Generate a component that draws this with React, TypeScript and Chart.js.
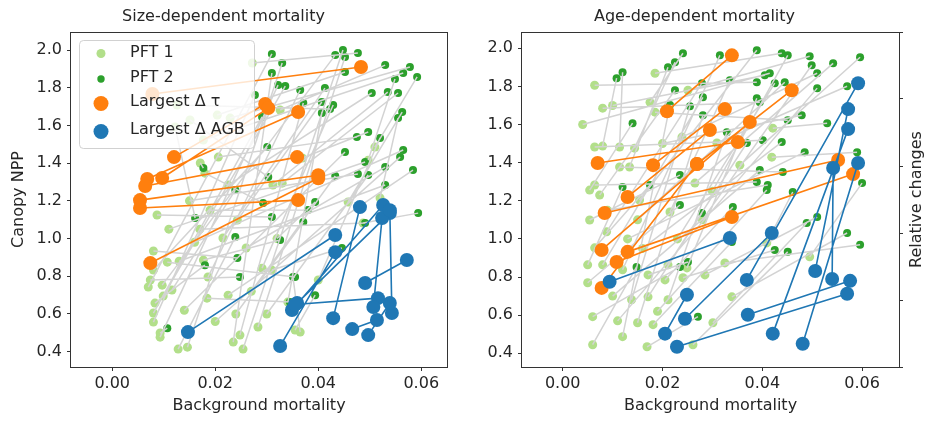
import React, { useEffect, useRef } from "react";
import { Chart, registerables } from "chart.js";
Chart.register(...registerables);

const FONT = "'DejaVu Sans', 'Liberation Sans', sans-serif";
const TEXT = "#262626";
const SPINE = "#333333";
const C_PFT1 = "#b2df8a";
const C_PFT2 = "#2ca02c";
const C_TAU = "#ff7f0e";
const C_AGB = "#1f77b4";
const C_LINK = "#d3d3d3";

const W = 463;
const H = 422;

const panelTitles = ["Size-dependent mortality", "Age-dependent mortality"];
const xAxisLabel = "Background mortality";
const yAxisLabel = "Canopy NPP";
const y2AxisLabel = "Relative changes";
const legendLabels = ["PFT 1", "PFT 2", "Largest \u0394 \u03c4", "Largest \u0394 AGB"];

// ---------- Size-dependent mortality (left) ----------
const sizeP1X = [0.0087,0.0080,0.0107,0.0080,0.0074,0.0070,0.0097,0.0116,0.0099,0.0083,0.0080,0.0080,0.0093,0.0093,0.0128,0.0146,0.0235,0.0248,0.0254,0.0283,0.0184,0.0186,0.0177,0.0215,0.0243,0.0225,0.0180,0.0312,0.0330,0.0291,0.0310,0.0355,0.0341,0.0272,0.0326,0.0126,0.0151,0.0204,0.0229,0.0206,0.0171,0.0177,0.0122,0.0510,0.0497,0.0369,0.0458,0.0520,0.0487,0.0400,0.0365,0.0140,0.0160,0.0200,0.0110,0.0225,0.0260,0.0150,0.0300,0.0270,0.0130,0.0320,0.0190,0.0240,0.0170];
const sizeP1Y = [1.125,0.934,0.875,0.833,0.780,0.743,0.753,0.727,0.695,0.658,0.605,0.557,0.499,0.477,0.414,0.424,0.451,0.488,0.414,0.531,0.684,0.796,0.886,1.003,1.098,1.284,1.347,1.284,1.294,0.843,0.833,0.515,0.663,1.931,1.682,1.708,1.629,1.655,1.639,1.432,1.401,1.523,1.592,1.485,1.416,1.427,1.194,1.215,1.082,0.780,0.504,0.620,0.980,0.560,1.050,0.700,0.950,1.200,0.600,0.720,0.880,1.000,1.150,0.600,1.050];
const sizeP2X = [0.0310,0.0243,0.0355,0.0301,0.0248,0.0310,0.0433,0.0239,0.0336,0.0180,0.0291,0.0277,0.0107,0.0322,0.0239,0.0330,0.0310,0.0371,0.0448,0.0452,0.0345,0.0365,0.0326,0.0413,0.0407,0.0504,0.0293,0.0535,0.0555,0.0429,0.0446,0.0394,0.0407,0.0477,0.0530,0.0423,0.0303,0.0452,0.0578,0.0475,0.0177,0.0565,0.0161,0.0592,0.0549,0.0497,0.0563,0.0555,0.0594,0.0520,0.0351,0.0452,0.0565,0.0559,0.0491,0.0584,0.0530,0.0477,0.0497,0.0433,0.0530,0.0394,0.0380,0.0371,0.0491];
const sizeP2Y = [1.114,0.897,0.796,1.485,0.796,1.979,1.973,1.257,1.809,0.859,1.645,1.761,0.525,1.814,1.008,1.931,1.878,1.719,2.000,1.963,0.663,1.788,0.992,1.798,1.724,1.772,1.188,1.777,1.772,1.708,0.950,0.700,1.666,1.984,1.920,1.687,1.326,1.883,1.910,1.538,1.374,1.878,1.109,1.857,1.846,1.565,1.671,1.639,1.135,1.533,0.796,1.459,1.470,1.432,1.406,1.363,1.379,1.342,1.337,1.332,1.284,1.194,1.151,1.088,1.082];

const sizeTauX1 = [0.0078,0.0120,0.0097,0.0068,0.0064,0.0054,0.0054,0.0074];
const sizeTauY1 = [1.767,1.432,1.321,1.316,1.279,1.204,1.162,0.870];
const sizeTauX2 = [0.0483,0.0297,0.0303,0.0361,0.0359,0.0400,0.0361,0.0400];
const sizeTauY2 = [1.910,1.714,1.692,1.671,1.432,1.336,1.204,1.320];

const sizeAgbX1 = [0.0147,0.0326,0.0349,0.0359,0.0429,0.0491,0.0355,0.0507,0.0543,0.0466,0.0497];
const sizeAgbY1 = [0.504,0.430,0.621,0.658,0.578,0.764,0.650,0.637,0.605,0.520,0.488];
const sizeAgbX2 = [0.0433,0.0433,0.0526,0.0539,0.0481,0.0572,0.0516,0.0524,0.0539,0.0514,0.0539];
const sizeAgbY2 = [1.019,0.928,1.178,1.135,1.167,0.886,0.684,1.109,1.150,0.568,0.658];

// ---------- Age-dependent mortality (right) ----------
const ageP1X = [0.0064,0.0185,0.0080,0.0175,0.0185,0.0251,0.0239,0.0064,0.0080,0.0114,0.0144,0.0114,0.0134,0.0064,0.0054,0.0074,0.0265,0.0309,0.0355,0.0421,0.0419,0.0054,0.0088,0.0064,0.0050,0.0080,0.0050,0.0120,0.0138,0.0171,0.0060,0.0120,0.0060,0.0169,0.0150,0.0181,0.0211,0.0205,0.0171,0.0211,0.0241,0.0261,0.0301,0.0339,0.0285,0.0325,0.0249,0.0215,0.0154,0.0495,0.0409,0.0100,0.0090,0.0130,0.0160,0.0040,0.0100,0.0200,0.0150,0.0280,0.0230,0.0300,0.0190,0.0110];
const ageP1Y = [1.806,1.869,1.686,1.717,1.665,1.780,1.534,1.482,1.487,1.482,1.476,1.377,1.377,1.283,1.256,1.230,1.293,1.503,1.387,1.581,1.429,1.099,1.037,0.953,0.864,0.864,0.770,0.838,0.681,0.696,0.592,0.487,0.445,0.434,0.560,0.550,0.681,0.785,0.811,0.864,0.796,0.445,0.560,0.696,0.811,0.874,0.848,1.141,1.204,0.906,0.979,0.700,1.150,1.000,0.950,1.600,1.700,1.500,1.100,1.100,1.000,1.250,0.620,0.570];
const ageP2X = [0.0389,0.0439,0.0395,0.0241,0.0451,0.0495,0.0510,0.0401,0.0108,0.0120,0.0225,0.0441,0.0211,0.0389,0.0140,0.0225,0.0542,0.0570,0.0596,0.0530,0.0590,0.0235,0.0279,0.0175,0.0120,0.0281,0.0235,0.0315,0.0255,0.0279,0.0235,0.0215,0.0148,0.0271,0.0281,0.0339,0.0329,0.0341,0.0251,0.0369,0.0425,0.0451,0.0489,0.0570,0.0510,0.0596,0.0389,0.0335,0.0389,0.0600,0.0461,0.0395,0.0411,0.0485,0.0439,0.0415,0.0405,0.0479,0.0445,0.0499,0.0425,0.0451,0.0409,0.0510];
const ageP2Y = [1.822,1.974,1.717,1.974,1.623,1.958,1.869,1.518,1.843,1.874,1.927,1.351,1.901,1.298,1.607,1.780,1.921,1.801,1.953,1.607,1.455,1.335,1.817,1.283,1.272,1.743,1.178,1.963,1.696,1.136,0.853,1.702,0.853,0.592,1.649,0.984,1.560,1.167,0.879,1.503,0.942,0.932,1.084,1.031,1.115,0.969,1.738,1.832,1.990,1.293,1.246,1.361,1.283,1.455,1.508,1.869,1.859,1.649,1.822,1.911,1.817,1.963,1.256,1.791];

const ageTauX1 = [0.0209,0.0181,0.0130,0.0070,0.0084,0.0078,0.0130,0.0108,0.0269,0.0078];
const ageTauY1 = [1.670,1.387,1.220,1.398,1.136,0.942,0.932,0.879,1.393,0.743];
const ageTauX2 = [0.0339,0.0325,0.0295,0.0351,0.0552,0.0375,0.0582,0.0339,0.0459,0.0269];
const ageTauY2 = [1.963,1.681,1.571,1.508,1.414,1.613,1.340,1.115,1.780,1.393];

const ageAgbX1 = [0.0094,0.0205,0.0245,0.0229,0.0371,0.0421,0.0481,0.0506,0.0540,0.0369];
const ageAgbY1 = [0.775,0.503,0.581,0.434,0.602,0.503,0.450,0.832,0.790,0.785];
const ageAgbX2 = [0.0335,0.0249,0.0419,0.0570,0.0576,0.0572,0.0592,0.0572,0.0542,0.0592];
const ageAgbY2 = [1.005,0.707,1.031,0.712,0.780,1.576,1.398,1.681,1.372,1.817];

// axis ranges
const sizeXRange = [-0.0080, 0.0650];
const sizeYRange = [0.3189, 2.0955];
const ageXRange = [-0.00816, 0.0674];
const ageYRange = [0.328, 2.0855];
const relRange = [0, 5];

function linkData(x1: number[], y1: number[], x2: number[], y2: number[]) {
  const out: { x: number; y: number }[] = [];
  for (let i = 0; i < x1.length; i++) {
    out.push({ x: x1[i], y: y1[i] }, { x: x2[i], y: y2[i] }, { x: NaN, y: NaN });
  }
  return out;
}
function pointData(xs: number[], ys: number[]) {
  return xs.map((x, i) => ({ x, y: ys[i] }));
}

type Panel = {
  title: string;
  p1x: number[]; p1y: number[]; p2x: number[]; p2y: number[];
  tx1: number[]; ty1: number[]; tx2: number[]; ty2: number[];
  ax1: number[]; ay1: number[]; ax2: number[]; ay2: number[];
  xr: number[]; yr: number[];
  left: number; right: number; bottom: number;
  isLeft: boolean;
};

function roundRectPath(ctx: CanvasRenderingContext2D, x: number, y: number, w: number, h: number, r: number) {
  ctx.beginPath();
  ctx.moveTo(x + r, y);
  ctx.lineTo(x + w - r, y);
  ctx.arcTo(x + w, y, x + w, y + r, r);
  ctx.lineTo(x + w, y + h - r);
  ctx.arcTo(x + w, y + h, x + w - r, y + h, r);
  ctx.lineTo(x + r, y + h);
  ctx.arcTo(x, y + h, x, y + h - r, r);
  ctx.lineTo(x, y + r);
  ctx.arcTo(x, y, x + r, y, r);
  ctx.closePath();
}

function extrasPlugin(p: Panel) {
  return {
    id: "panelExtras",
    afterDatasetsDraw(chart: any) {
      const ctx: CanvasRenderingContext2D = chart.ctx;
      const ca = chart.chartArea;
      ctx.save();
      // frame
      ctx.strokeStyle = SPINE;
      ctx.lineWidth = 1;
      const l = Math.round(ca.left) - 0.5, t = Math.round(ca.top) + 0.5;
      const r = Math.round(ca.right) + 0.5, b = Math.round(ca.bottom) + 0.5;
      ctx.strokeRect(l, t, r - l, b - t);

      if (p.isLeft) {
        const bx = ca.left + 8, by = ca.top + 8, bw = 175, bh = 108;
        roundRectPath(ctx, bx + 0.5, by + 0.5, bw, bh, 4);
        ctx.fillStyle = "rgba(255,255,255,0.8)";
        ctx.fill();
        ctx.strokeStyle = "rgba(204,204,204,0.9)";
        ctx.stroke();
        const rows = [
          { c: C_PFT1, r: 4.5, my: 13.5, ty: 13 },
          { c: C_PFT2, r: 3.7, my: 39, ty: 37.5 },
          { c: C_TAU, r: 7.5, my: 63.5, ty: 62 },
          { c: C_AGB, r: 7.5, my: 91.5, ty: 89.5 },
        ];
        ctx.font = `16px ${FONT}`;
        ctx.textBaseline = "middle";
        ctx.textAlign = "left";
        rows.forEach((row, i) => {
          ctx.beginPath();
          ctx.fillStyle = row.c;
          ctx.arc(bx + 22, by + row.my, row.r, 0, Math.PI * 2);
          ctx.fill();
          ctx.fillStyle = TEXT;
          ctx.fillText(legendLabels[i], bx + 51, by + row.ty);
        });
      } else {
        ctx.translate(chart.width - 9, (ca.top + ca.bottom) / 2);
        ctx.rotate(-Math.PI / 2);
        ctx.font = `16px ${FONT}`;
        ctx.fillStyle = TEXT;
        ctx.textAlign = "center";
        ctx.textBaseline = "middle";
        ctx.fillText(y2AxisLabel, 0, 0);
      }
      ctx.restore();
    },
  };
}

function makeConfig(p: Panel): any {
  const datasets: any[] = [
    {
      label: legendLabels[3],
      data: linkData(p.ax1, p.ay1, p.ax2, p.ay2),
      showLine: true,
      borderColor: C_AGB,
      borderWidth: 1.6,
      pointRadius: 7,
      pointBackgroundColor: C_AGB,
      pointBorderWidth: 0,
      order: 0,
      yAxisID: "y",
    },
    {
      label: legendLabels[2],
      data: linkData(p.tx1, p.ty1, p.tx2, p.ty2),
      showLine: true,
      borderColor: C_TAU,
      borderWidth: 1.6,
      pointRadius: 7,
      pointBackgroundColor: C_TAU,
      pointBorderWidth: 0,
      order: 1,
      yAxisID: "y",
    },
    {
      label: "links",
      data: linkData(p.p1x, p.p1y, p.p2x, p.p2y),
      showLine: true,
      borderColor: C_LINK,
      borderWidth: 1.5,
      pointRadius: 0,
      order: 2,
      yAxisID: "y",
    },
    {
      label: legendLabels[1],
      data: pointData(p.p2x, p.p2y),
      pointRadius: 4,
      pointBackgroundColor: C_PFT2,
      pointBorderWidth: 0,
      order: 3,
      yAxisID: "y",
    },
    {
      label: legendLabels[0],
      data: pointData(p.p1x, p.p1y),
      pointRadius: 4.5,
      pointBackgroundColor: C_PFT1,
      pointBorderWidth: 0,
      order: 4,
      yAxisID: "y",
    },
  ];

  const scales: any = {
    x: {
      type: "linear",
      position: "bottom",
      min: p.xr[0],
      max: p.xr[1],
      ticks: {
        stepSize: 0.02,
        includeBounds: false,
        maxRotation: 0,
        padding: 3,
        color: TEXT,
        font: { size: 16, family: FONT },
        callback: (v: any) => Number(v).toFixed(2),
      },
      grid: { drawOnChartArea: false, drawTicks: true, tickLength: 4, tickColor: SPINE },
      border: { display: false },
      title: {
        display: true,
        text: xAxisLabel,
        color: TEXT,
        font: { size: 16, family: FONT },
        padding: { top: 0, bottom: 7 },
      },
      afterFit: (s: any) => {
        s.height = H - p.bottom;
      },
    },
    y: {
      type: "linear",
      position: "left",
      min: p.yr[0],
      max: p.yr[1],
      ticks: {
        stepSize: 0.2,
        includeBounds: false,
        padding: 5,
        color: TEXT,
        font: { size: 16, family: FONT },
        callback: (v: any) => Number(v).toFixed(1),
      },
      grid: { drawOnChartArea: false, drawTicks: true, tickLength: 4, tickColor: SPINE },
      border: { display: false },
      title: {
        display: p.isLeft,
        text: yAxisLabel,
        color: TEXT,
        font: { size: 16, family: FONT },
        padding: { top: 9, bottom: 0 },
      },
      afterFit: (s: any) => {
        s.width = p.left;
      },
    },
  };
  if (!p.isLeft) {
    scales.y2 = {
      type: "linear",
      position: "right",
      min: relRange[0],
      max: relRange[1],
      ticks: { stepSize: 1, includeBounds: false, callback: () => "" , padding: 0},
      grid: { drawOnChartArea: false, drawTicks: true, tickLength: 4, tickColor: SPINE },
      border: { display: false },
      afterFit: (s: any) => {
        s.width = W - p.right;
      },
    };
  }

  return {
    type: "scatter",
    data: { datasets },
    options: {
      responsive: false,
      animation: false,
      events: [],
      layout: { padding: { left: 0, top: 0, bottom: 0, right: p.isLeft ? W - p.right : 0 } },
      scales,
      plugins: {
        legend: { display: false },
        tooltip: { enabled: false },
        title: {
          display: true,
          text: p.title,
          color: TEXT,
          font: { size: 16, family: FONT, weight: "normal" },
          padding: { top: 7, bottom: 5.8 },
        },
      },
    },
    plugins: [extrasPlugin(p)],
  };
}

const panels: Panel[] = [
  {
    title: panelTitles[0],
    p1x: sizeP1X, p1y: sizeP1Y, p2x: sizeP2X, p2y: sizeP2Y,
    tx1: sizeTauX1, ty1: sizeTauY1, tx2: sizeTauX2, ty2: sizeTauY2,
    ax1: sizeAgbX1, ay1: sizeAgbY1, ax2: sizeAgbX2, ay2: sizeAgbY2,
    xr: sizeXRange, yr: sizeYRange,
    left: 71, right: 447, bottom: 367, isLeft: true,
  },
  {
    title: panelTitles[1],
    p1x: ageP1X, p1y: ageP1Y, p2x: ageP2X, p2y: ageP2Y,
    tx1: ageTauX1, ty1: ageTauY1, tx2: ageTauX2, ty2: ageTauY2,
    ax1: ageAgbX1, ay1: ageAgbY1, ax2: ageAgbX2, ay2: ageAgbY2,
    xr: ageXRange, yr: ageYRange,
    left: 59, right: 436, bottom: 367, isLeft: false,
  },
];

export default function App() {
  const leftRef = useRef<HTMLCanvasElement | null>(null);
  const rightRef = useRef<HTMLCanvasElement | null>(null);

  useEffect(() => {
    document.body.style.margin = "0";
    Chart.defaults.font.family = FONT;
    Chart.defaults.color = TEXT;
    const charts: Chart[] = [];
    if (leftRef.current) charts.push(new Chart(leftRef.current, makeConfig(panels[0])));
    if (rightRef.current) charts.push(new Chart(rightRef.current, makeConfig(panels[1])));
    return () => {
      charts.forEach((c) => c.destroy());
    };
  }, []);

  return (
    <div style={{ position: "fixed", left: 0, top: 0, width: 926, height: 422, background: "#fff" }}>
      <canvas
        ref={leftRef}
        width={W}
        height={H}
        style={{ position: "absolute", left: 0, top: 0, width: W, height: H }}
      />
      <canvas
        ref={rightRef}
        width={W}
        height={H}
        style={{ position: "absolute", left: W, top: 0, width: W, height: H }}
      />
    </div>
  );
}
